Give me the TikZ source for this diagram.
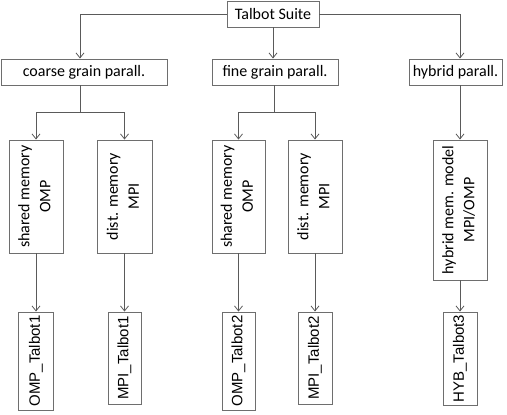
\documentclass[tikz,border=0pt]{standalone}
\usepackage{fontspec}
\setmainfont{Carlito}
\newfontfamily\arialf{Liberation Sans}
\usetikzlibrary{arrows.meta}
\definecolor{lncol}{HTML}{5A5A5A}
\definecolor{bxcol}{HTML}{6E6E6E}
\newcommand{\twol}[2]{\rotatebox{90}{\begin{tabular}{@{}c@{}}#1\\[2pt]#2\end{tabular}}}
\begin{document}
\begin{tikzpicture}[x=1pt,y=-1pt,
  box/.style={draw=bxcol, line width=0.9pt, inner sep=0pt, font=\fontsize{16}{19}\selectfont},
  leaf/.style={box, font=\arialf\fontsize{15}{18}\selectfont},
  arr/.style={draw=lncol, line width=0.8pt, -{Straight Barb[length=5pt,width=8pt]}},
  lnk/.style={draw=lncol, line width=0.8pt}]
\useasboundingbox (0,0) rectangle (507,415);
% top
\node[box, minimum width=92pt, minimum height=26pt] (ts) at (273,14) {Talbot Suite};
% level 2
\node[box, minimum width=166pt, minimum height=26pt] (cg) at (84,72) {coarse grain parall.};
\node[box, minimum width=126pt, minimum height=26pt] (fg) at (275,72) {fine grain parall.};
\node[box, minimum width=93pt, minimum height=26pt] (hp) at (455.5,72) {hybrid parall.};
% level 3
\node[box, minimum width=54pt, minimum height=113pt] (s1) at (36,196.5) {\twol{shared memory}{OMP}};
\node[box, minimum width=55pt, minimum height=113pt] (d1) at (124.5,196.5) {\twol{dist. memory}{MPI}};
\node[box, minimum width=53pt, minimum height=113pt] (s2) at (238.5,196.5) {\twol{shared memory}{OMP}};
\node[box, minimum width=54pt, minimum height=113pt] (d2) at (315,196.5) {\twol{dist. memory}{MPI}};
\node[box, minimum width=54pt, minimum height=140pt] (hm) at (460,210) {\twol{hybrid mem. model}{MPI/OMP}};
% level 4
\node[leaf, minimum width=35pt, minimum height=98pt] (o1) at (36,361) {\rotatebox{90}{OMP\_Talbot1}};
\node[leaf, minimum width=33pt, minimum height=92pt] (m1) at (124.5,358) {\rotatebox{90}{MPI\_Talbot1}};
\node[leaf, minimum width=33pt, minimum height=98pt] (o2) at (238.5,361) {\rotatebox{90}{OMP\_Talbot2}};
\node[leaf, minimum width=34pt, minimum height=92pt] (m2) at (315,358) {\rotatebox{90}{MPI\_Talbot2}};
\node[leaf, minimum width=34pt, minimum height=93pt] (h3) at (460,358.5) {\rotatebox{90}{HYB\_Talbot3}};
% junctions
\coordinate (j1) at (80,112);
\coordinate (j2) at (274,112);
% connectors
\draw[arr] (ts.west) -| (cg.north -| j1);
\draw[arr] (ts.east) -| (hp.north -| hm.north);
\draw[arr] (ts.south) -- (ts.south |- fg.north);
\draw[lnk] (cg.south -| j1) -- (j1);
\draw[arr] (j1) -| (s1.north);
\draw[arr] (j1) -| (d1.north);
\draw[lnk] (fg.south -| j2) -- (j2);
\draw[arr] (j2) -| (s2.north);
\draw[arr] (j2) -| (d2.north);
\draw[arr] (hp.south -| hm.north) -- (hm.north);
\draw[arr] (s1.south) -- (o1.north);
\draw[arr] (d1.south) -- (m1.north);
\draw[arr] (s2.south) -- (o2.north);
\draw[arr] (d2.south) -- (m2.north);
\draw[arr] (hm.south) -- (h3.north);
\end{tikzpicture}
\end{document}
